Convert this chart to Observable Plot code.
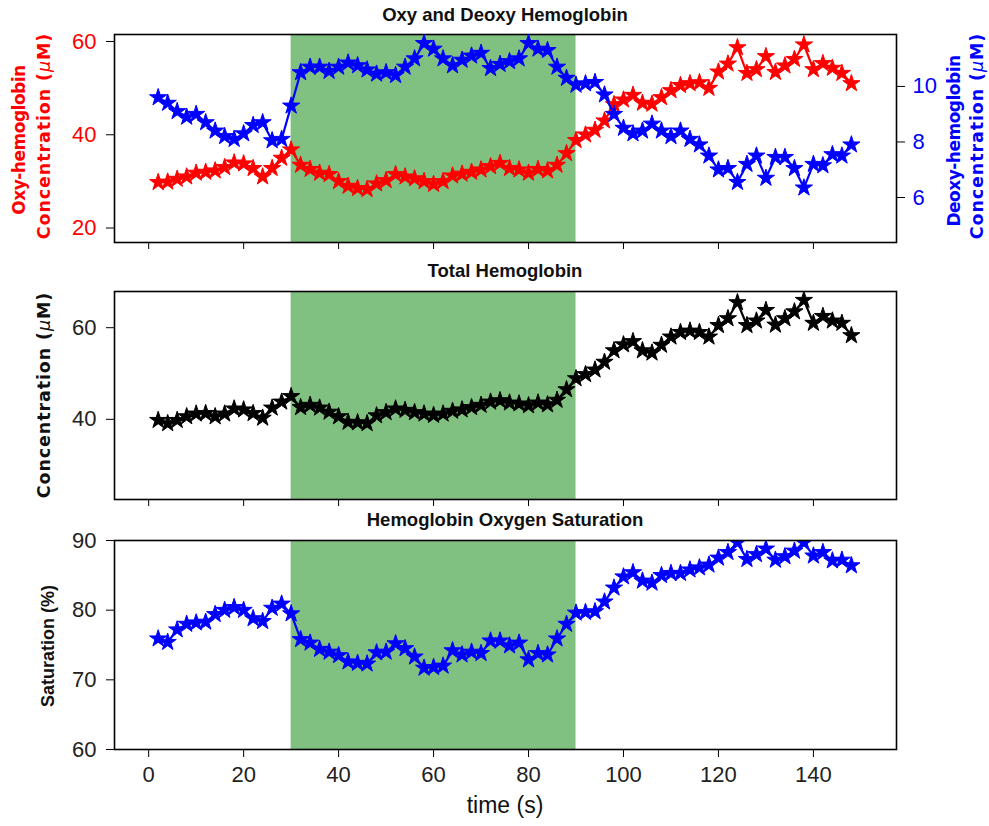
<!DOCTYPE html>
<html>
<head>
<meta charset="utf-8">
<script src="https://cdn.jsdelivr.net/npm/d3@7"></script>
<script src="https://cdn.jsdelivr.net/npm/@observablehq/plot@0.6"></script>
<style>
  body { margin: 0; background: #fff; }
  #wrap { position: relative; width: 989px; height: 826px; overflow: hidden; background: #fff; }
  .pl { position: absolute; left: 0; }
  .title { position: absolute; left: 114px; width: 782px; text-align: center; font-family: "Liberation Sans", Arial, sans-serif; font-weight: bold; font-size: 18.5px; line-height: 19px; color: #111; white-space: nowrap; }
  .ylab { position: absolute; transform: translate(-50%, -50%) rotate(-90deg); white-space: nowrap; font-family: "DejaVu Sans", sans-serif; font-weight: bold; line-height: 1; }
  .xlab { position: absolute; left: 114px; width: 782px; text-align: center; font-family: "Liberation Sans", Arial, sans-serif; font-size: 23px; line-height: 23px; color: #111; }
</style>
</head>
<body>
<div id="wrap"></div>
<script>
// ---- data ----
const time = [2,4,6,8,10,12,14,16,18,20,22,24,26,28,30,32,34,36,38,40,42,44,46,48,50,52,54,56,58,60,62,64,66,68,70,72,74,76,78,80,82,84,86,88,90,92,94,96,98,100,102,104,106,108,110,112,114,116,118,120,122,124,126,128,130,132,134,136,138,140,142,144,146,148];
const oxy = [29.8,29.9,30.5,31.0,31.8,32.0,32.3,33.0,34.0,33.8,32.8,31.0,32.8,35.0,36.8,33.5,32.6,31.8,31.5,30.0,29.0,28.5,28.3,29.5,30.2,31.5,31.0,30.6,30.0,29.4,30.0,31.2,31.6,32.0,32.5,33.2,33.9,32.8,32.5,31.8,32.6,32.3,33.5,36.0,38.8,40.0,41.0,43.0,46.5,47.5,48.5,46.8,46.6,48.0,49.5,50.6,51.0,51.2,50.0,53.5,55.2,58.7,53.2,54.0,56.8,53.4,54.8,56.2,59.3,54.0,55.3,54.3,53.2,51.0];
const deoxy = [9.6,9.4,9.1,8.9,9.0,8.7,8.4,8.2,8.1,8.3,8.6,8.7,8.05,8.1,9.3,10.5,10.7,10.7,10.55,10.7,10.85,10.75,10.6,10.45,10.5,10.4,10.7,11.0,11.55,11.35,11.0,10.75,10.95,11.1,11.2,10.65,10.8,10.9,11.0,11.55,11.35,11.3,10.7,10.3,10.05,10.1,10.15,9.7,9.0,8.5,8.3,8.4,8.65,8.4,8.2,8.4,8.1,7.9,7.5,7.0,7.05,6.55,7.2,7.5,6.7,7.45,7.45,7.05,6.35,7.2,7.15,7.55,7.5,7.9];
const total = [39.8,39.1,39.8,40.6,41.2,41.3,40.6,41.2,42.3,42.1,41.3,40.3,42.5,43.8,45.0,42.6,43.1,42.5,41.6,40.6,39.4,39.3,39.1,40.8,41.5,42.3,42.0,41.5,41.2,40.9,41.2,41.8,42.1,42.6,43.1,43.8,44.1,43.6,43.4,43.0,43.6,43.2,44.2,46.5,48.9,49.8,50.8,52.5,55.0,56.3,57.0,55.0,54.5,56.2,58.0,59.0,59.3,59.0,58.0,60.5,62.0,65.5,60.5,61.5,63.8,60.6,62.0,63.5,66.0,61.0,62.5,61.5,61.0,58.3];
const saturation = [75.9,75.4,77.2,78.0,78.2,78.3,79.4,80.0,80.4,80.0,78.8,78.4,80.3,80.9,79.5,75.8,75.3,74.4,74.0,73.5,72.6,72.4,72.3,73.9,74.0,75.2,74.5,73.3,71.7,71.8,72.0,74.2,73.6,74.0,73.8,75.6,75.6,74.9,75.3,72.9,73.8,73.6,75.9,78.0,79.6,79.7,79.8,81.2,83.2,84.8,85.4,84.2,83.9,85.0,85.3,85.3,85.8,86.1,86.5,87.5,88.3,89.7,87.3,88.0,88.8,87.2,87.7,88.5,89.7,87.8,88.3,87.1,87.2,86.4];
const stimStart = [30];
const stimEnd = [90];
const timeTicks = [0,20,40,60,80,100,120,140];
const oxyTicks = [20,40,60];
const deoxyTicks = [6,8,10];
const totalTicks = [40,60];
const satTicks = [60,70,80,90];

// ---- tables ----
const rows = time.map((t, i) => ({t, oxy: oxy[i], deoxy: deoxy[i], total: total[i], sat: saturation[i]}));
const stim = stimStart.map((s, i) => ({start: s, end: stimEnd[i]}));

const W = 989, ML = 114, MR = 93;
const xDomain = [-7.2, 157.5];
const GREEN = "#80c080";
const baseStyle = {fontSize: "22px", fontFamily: "'Liberation Sans', Arial, sans-serif", color: "#111", background: "transparent", overflow: "visible"};

function series(key, color) {
  return [
    Plot.line(rows, {x: "t", y: key, stroke: color, strokeWidth: 2.2, clip: true}),
    Plot.dot(rows, {x: "t", y: key, symbol: "star", r: 5.4, fill: color, stroke: color, strokeWidth: 1, clip: true})
  ];
}

const wrap = document.getElementById("wrap");
function place(svg, top) {
  svg.classList.add("pl");
  svg.style.top = top + "px";
  wrap.appendChild(svg);
}

// Panel 1 : oxy (left axis)
place(Plot.plot({
  width: W, height: 260, marginLeft: ML, marginRight: MR, marginTop: 34, marginBottom: 18,
  x: {domain: xDomain},
  y: {domain: [16.9, 61.5]},
  style: {...baseStyle, background: "#fff"},
  marks: [
    Plot.rect(stim, {x1: "start", x2: "end", fill: GREEN}),
    ...series("oxy", "red"),
    Plot.axisX({ticks: timeTicks, tickSize: 7, tickFormat: () => "", label: null, stroke: "black"}),
    Plot.axisY({ticks: oxyTicks, tickSize: 8, tickPadding: 10, label: null, fill: "red", stroke: "black"}),
    Plot.frame({stroke: "black", strokeWidth: 1.6})
  ]
}), 0);

// Panel 1 overlay : deoxy (right axis)
place(Plot.plot({
  width: W, height: 260, marginLeft: ML, marginRight: MR, marginTop: 34, marginBottom: 18,
  x: {domain: xDomain, axis: null},
  y: {domain: [4.38, 11.87]},
  style: baseStyle,
  marks: [
    ...series("deoxy", "blue"),
    Plot.axisY({anchor: "right", ticks: deoxyTicks, tickSize: 8, tickPadding: 8, label: null, fill: "blue", stroke: "black"})
  ]
}), 0);

// Panel 2 : total
place(Plot.plot({
  width: W, height: 250, marginLeft: ML, marginRight: MR, marginTop: 31, marginBottom: 11,
  x: {domain: xDomain},
  y: {domain: [22.5, 67.9]},
  style: {...baseStyle, background: "#fff"},
  marks: [
    Plot.rect(stim, {x1: "start", x2: "end", fill: GREEN}),
    ...series("total", "black"),
    Plot.axisX({ticks: timeTicks, tickSize: 7, tickFormat: () => "", label: null, stroke: "black"}),
    Plot.axisY({ticks: totalTicks, tickSize: 8, tickPadding: 10, label: null, fill: "#222", stroke: "black"}),
    Plot.frame({stroke: "black", strokeWidth: 1.6})
  ]
}), 260);

// Panel 3 : saturation
place(Plot.plot({
  width: W, height: 316, marginLeft: ML, marginRight: MR, marginTop: 30, marginBottom: 77,
  x: {domain: xDomain},
  y: {domain: [60, 90]},
  style: {...baseStyle, background: "#fff"},
  marks: [
    Plot.rect(stim, {x1: "start", x2: "end", fill: GREEN}),
    ...series("sat", "blue"),
    Plot.axisX({ticks: timeTicks, tickSize: 8, tickPadding: 9, label: null, fill: "#222", stroke: "black"}),
    Plot.axisY({ticks: satTicks, tickSize: 8, tickPadding: 10, label: null, fill: "#222", stroke: "black"}),
    Plot.frame({stroke: "black", strokeWidth: 1.6})
  ]
}), 510);

// ---- text ----
function addDiv(cls, html, css) {
  const d = document.createElement("div");
  d.className = cls;
  d.innerHTML = html;
  Object.assign(d.style, css);
  wrap.appendChild(d);
}
addDiv("title", "Oxy and Deoxy Hemoglobin", {top: "5px"});
addDiv("title", "Total Hemoglobin", {top: "261px"});
addDiv("title", "Hemoglobin Oxygen Saturation", {top: "510px"});
addDiv("xlab", "time (s)", {top: "794px"});

const mu = '<span style="font-style:italic;font-weight:normal">\u03bc</span>';
const conc = "Concentration (" + mu + "M)";
addDiv("ylab", "Oxy-hemoglobin", {left: "19px", top: "140px", color: "red", fontSize: "17px", letterSpacing: "-0.5px"});
addDiv("ylab", conc, {left: "45px", top: "136px", color: "red", fontSize: "17.5px", letterSpacing: "0.9px"});
addDiv("ylab", "Deoxy-hemoglobin", {left: "954px", top: "141px", color: "blue", fontSize: "17px", letterSpacing: "-0.5px"});
addDiv("ylab", conc, {left: "978px", top: "136px", color: "blue", fontSize: "17.5px", letterSpacing: "0.9px"});
addDiv("ylab", conc, {left: "45px", top: "395px", color: "#111", fontSize: "17.5px", letterSpacing: "0.9px"});
addDiv("ylab", "Saturation (%)", {left: "48px", top: "646px", color: "#111", fontSize: "18px", fontFamily: "'Liberation Sans', Arial, sans-serif"});
</script>
</body>
</html>
